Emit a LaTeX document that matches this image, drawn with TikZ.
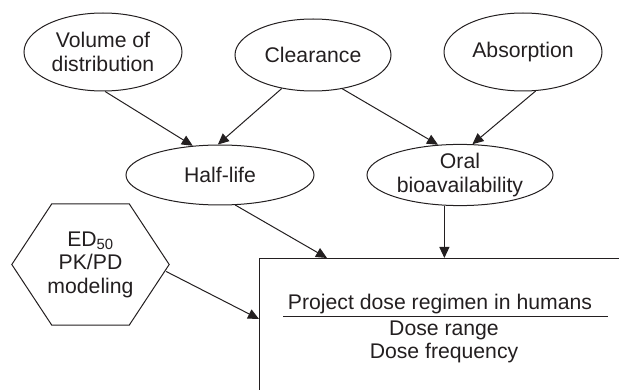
\documentclass[tikz,border=0pt]{standalone}
\usepackage{fontspec}
\setmainfont{Liberation Sans}
\usetikzlibrary{arrows.meta,shapes.geometric,calc}
\definecolor{ink}{HTML}{231F20}
\begin{document}
\begin{tikzpicture}[x=1pt,y=-1pt,
  every node/.style={text=ink, font=\fontsize{21.2}{23.5}\selectfont},
  oval/.style={draw=ink, line width=1pt, ellipse, inner sep=0pt, align=center},
  conn/.style={draw=ink, line width=1pt, -{Triangle[length=11pt,width=10pt]}},
  rule/.style={draw=ink, line width=1pt},
]
\useasboundingbox (0,0) rectangle (619,390);
\node[oval, minimum width=158pt, minimum height=78pt] (vol) at (103,52) {Volume of\\distribution};
\node[oval, minimum width=156pt, minimum height=72pt] (clr) at (313,55) {Clearance};
\node[oval, minimum width=158pt, minimum height=78pt] (abs) at (523,52) {Absorption};
\node[oval, minimum width=188pt, minimum height=60pt] (half) at (220,175) {Half-life};
\node[oval, minimum width=186pt, minimum height=60pt] (oral) at (460,175) {Oral\\bioavailability};
\node[minimum width=157pt, minimum height=121pt, inner sep=0pt, align=center] (hex) at (90.5,264.5) {ED\textsubscript{50}\\PK/PD\\modeling};
\draw[rule] (hex.west) -- ($(hex.north west)+(40,0)$) -- ($(hex.north east)+(-40,0)$) -- (hex.east) -- ($(hex.south east)+(-40,0)$) -- ($(hex.south west)+(40,0)$) -- cycle;
\begin{scope}
\clip (0,0) rectangle (619,390);
\node[draw=ink, line width=1.1pt, anchor=north west, minimum width=400pt, minimum height=200pt, inner sep=0pt] (box) at (259,258) {};
\end{scope}
\node[anchor=base] (proj) at (440,310) {Project dose regimen in humans};
\coordinate (ruleL) at (283,317);
\coordinate (ruleR) at (608,317);
\draw[rule] (ruleL) -- (ruleR);
\node[anchor=base] (range) at (444,336) {Dose range};
\node[anchor=base] (freq) at (444,359) {Dose frequency};
\draw[conn] (vol.273) -- (half.133);
\draw[conn] (clr.227) -- (half.94);
\draw[conn] (clr.311) -- (oral.126);
\draw[conn] (abs.288) -- (oral.68);
\draw[conn] (half.297) -- ($(box.north west)+(68,0)$);
\draw[conn] (oral.243) -- (oral.243 |- box.north);
\draw[conn] ($(hex.east)+(-3,7)$) -- ($(box.north west)+(0,61)$);
\end{tikzpicture}
\end{document}
